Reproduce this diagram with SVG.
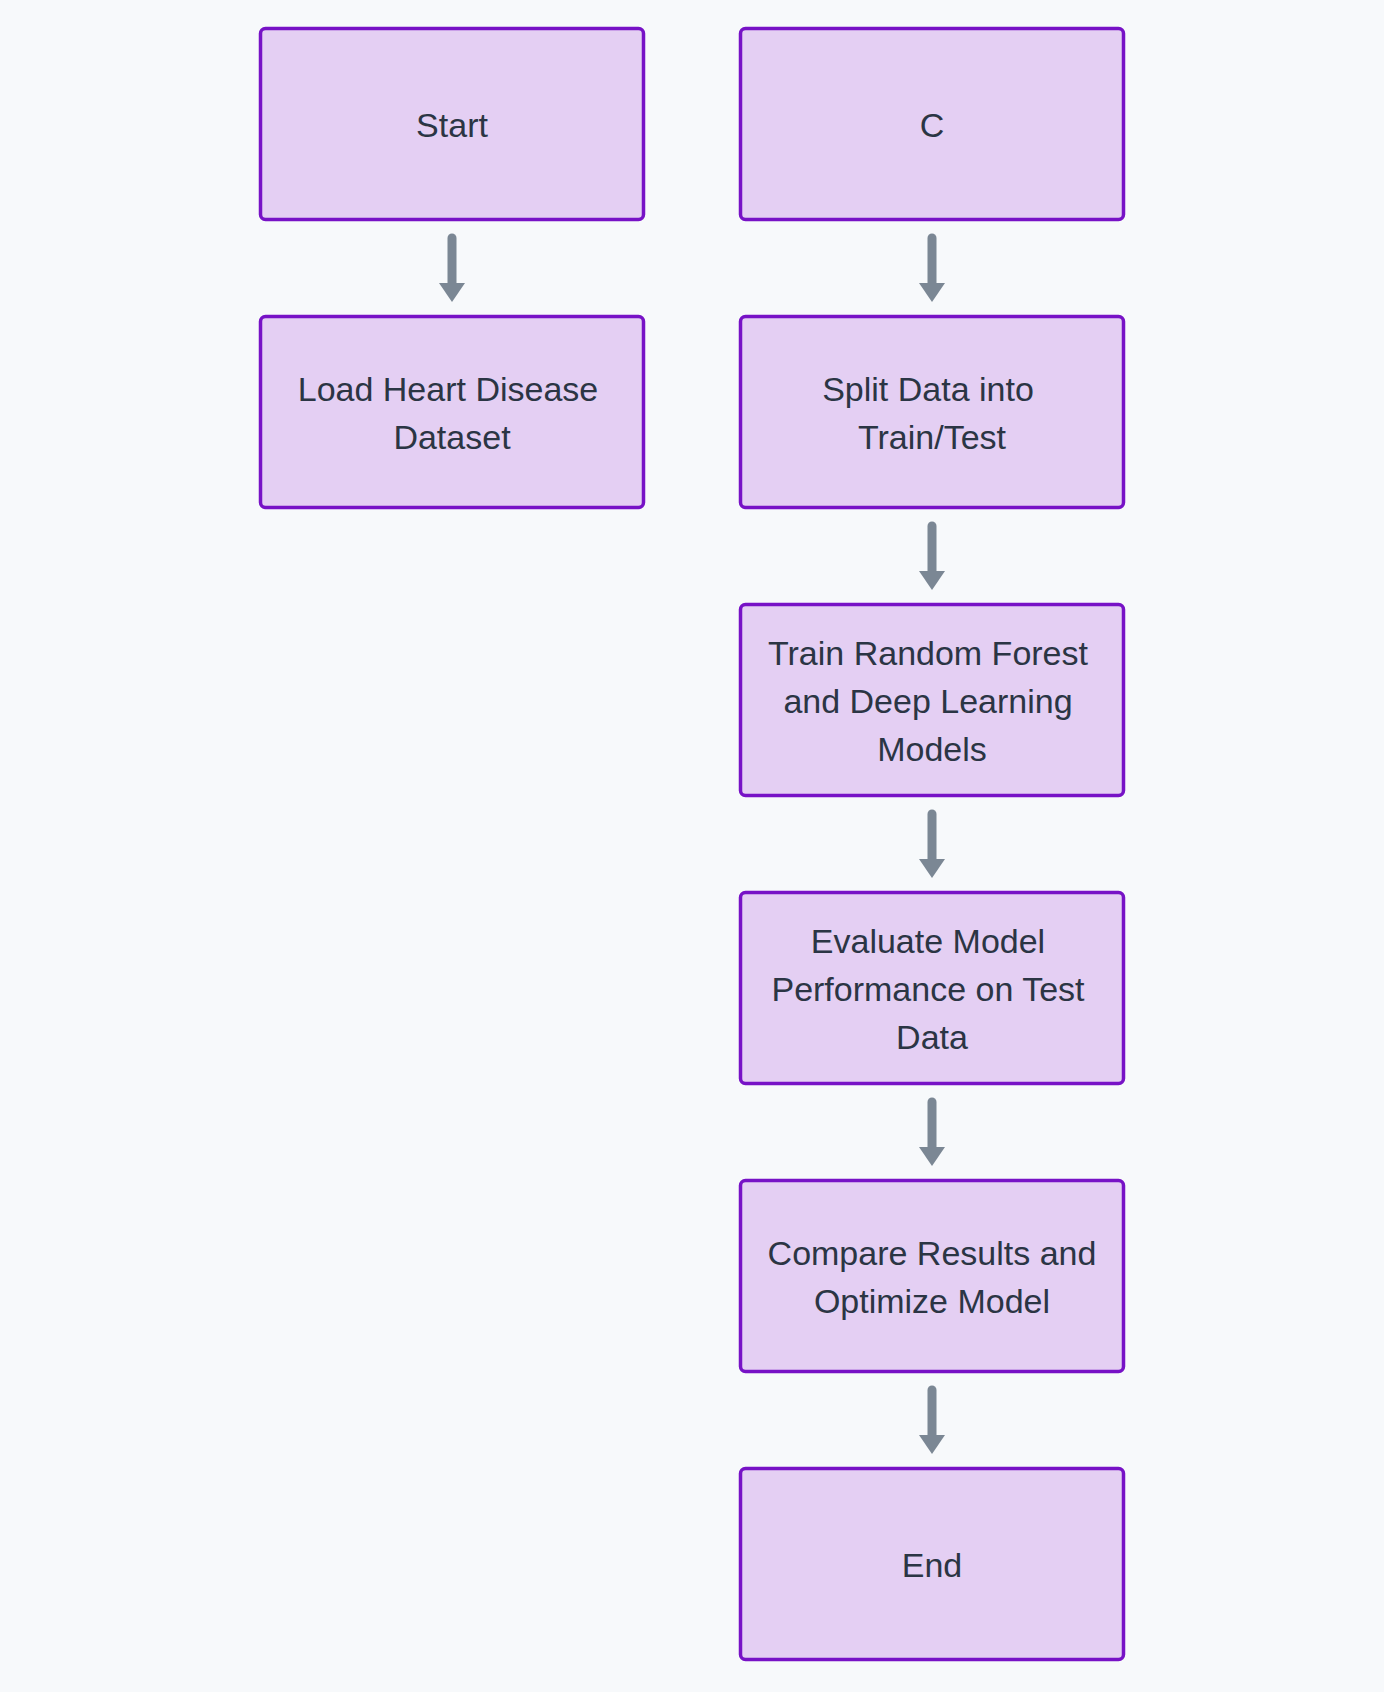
<svg xmlns="http://www.w3.org/2000/svg" width="1384" height="1692" viewBox="0 0 1384 1692">
<defs>
<style>
.n{fill:#e4cff3;stroke:#7712c6;stroke-width:3.5}
.t{font-family:"Liberation Sans",Arial,sans-serif;font-size:34px;fill:#2b3544;text-anchor:middle}
.e{stroke:#7b8794;stroke-width:9;stroke-linecap:round;fill:none}
.h{fill:#7b8794}
</style>
</defs>
<rect width="1384" height="1692" fill="#f7f9fb"/>
<g id="connectors">
<line class="e" x1="452" y1="238" x2="452" y2="286"/><polygon class="h" points="439,283 465,283 452,302"/>
<line class="e" x1="932" y1="238" x2="932" y2="286"/><polygon class="h" points="919,283 945,283 932,302"/>
<line class="e" x1="932" y1="526" x2="932" y2="574"/><polygon class="h" points="919,571 945,571 932,590"/>
<line class="e" x1="932" y1="814" x2="932" y2="862"/><polygon class="h" points="919,859 945,859 932,878"/>
<line class="e" x1="932" y1="1102" x2="932" y2="1150"/><polygon class="h" points="919,1147 945,1147 932,1166"/>
<line class="e" x1="932" y1="1390" x2="932" y2="1438"/><polygon class="h" points="919,1435 945,1435 932,1454"/>
</g>
<g id="start"><rect class="n" x="260.5" y="28.5" width="383" height="191" rx="5"/><text class="t" x="452" y="137">Start</text></g>
<g id="load"><rect class="n" x="260.5" y="316.5" width="383" height="191" rx="5"/><text class="t" x="448" y="401">Load Heart Disease</text><text class="t" x="452" y="449">Dataset</text></g>
<g id="c"><rect class="n" x="740.5" y="28.5" width="383" height="191" rx="5"/><text class="t" x="932" y="137">C</text></g>
<g id="split"><rect class="n" x="740.5" y="316.5" width="383" height="191" rx="5"/><text class="t" x="928" y="401">Split Data into</text><text class="t" x="932" y="449">Train/Test</text></g>
<g id="train"><rect class="n" x="740.5" y="604.5" width="383" height="191" rx="5"/><text class="t" x="928" y="665">Train Random Forest</text><text class="t" x="928" y="713">and Deep Learning</text><text class="t" x="932" y="761">Models</text></g>
<g id="evaluate"><rect class="n" x="740.5" y="892.5" width="383" height="191" rx="5"/><text class="t" x="928" y="953">Evaluate Model</text><text class="t" x="928" y="1001">Performance on Test</text><text class="t" x="932" y="1049">Data</text></g>
<g id="compare"><rect class="n" x="740.5" y="1180.5" width="383" height="191" rx="5"/><text class="t" x="932" y="1265">Compare Results and</text><text class="t" x="932" y="1313">Optimize Model</text></g>
<g id="end"><rect class="n" x="740.5" y="1468.5" width="383" height="191" rx="5"/><text class="t" x="932" y="1577">End</text></g>
</svg>
